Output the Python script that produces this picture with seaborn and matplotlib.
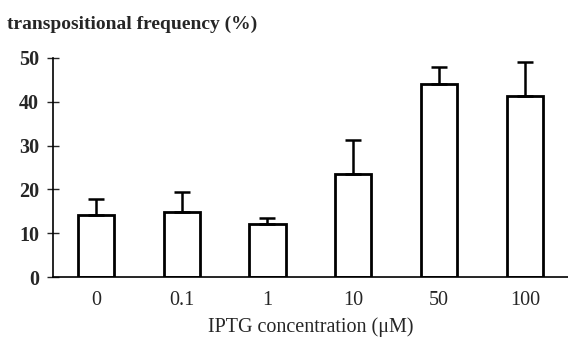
import numpy as np
import matplotlib
matplotlib.use("Agg")
import matplotlib.pyplot as plt
import seaborn as sns

concentrations = ["0", "0.1", "1", "10", "50", "100"]
frequency = [14.2, 14.8, 12.1, 23.6, 44.1, 41.4]
errors = [3.6, 4.6, 1.4, 7.6, 3.8, 7.7]

sns.set_style("white")
plt.rcParams['font.family'] = ['Liberation Serif', 'DejaVu Serif']

fig = plt.figure(figsize=(5.68, 3.43), dpi=100)
ax = fig.add_axes([0.093, 0.192, 0.907, 0.639])

sns.barplot(x=concentrations, y=frequency, color="white", edgecolor="black",
            linewidth=2, width=0.42, ax=ax)

xs = np.arange(len(concentrations))
ax.errorbar(xs, frequency, yerr=[np.zeros(len(errors)), errors], fmt="none",
            ecolor="black", elinewidth=1.8, capsize=6, capthick=1.8, zorder=1)

ax.set_ylim(0, 50)
ax.set_xlim(-0.5, len(concentrations) - 0.5)
ax.set_yticks([0, 10, 20, 30, 40, 50])
ax.set_yticklabels(["0", "10", "20", "30", "40", "50"], fontsize=14.5, fontweight="bold")
ax.set_xticks(xs)
ax.set_xticklabels(concentrations, fontsize=14.5)
ax.set_xticks(xs[:-1] + 0.5, minor=True)
ax.tick_params(axis="x", which="major", length=0, pad=10)
ax.tick_params(axis="x", which="minor", direction="inout", length=8, width=1)
ax.tick_params(axis="y", direction="inout", length=8, width=1, pad=6, left=True)

for s in ["top", "right"]:
    ax.spines[s].set_visible(False)
ax.spines["left"].set_linewidth(1.2)
ax.spines["bottom"].set_linewidth(1.2)
ax.spines["left"].set_color("black")
ax.spines["bottom"].set_color("black")

ax.set_xlabel("IPTG concentration (μM)", fontsize=14.5, labelpad=5)
ax.set_ylabel("")
fig.text(0.012, 0.915, "transpositional frequency (%)", fontsize=14, fontweight="bold")

fig.savefig("out.png", dpi=100)
